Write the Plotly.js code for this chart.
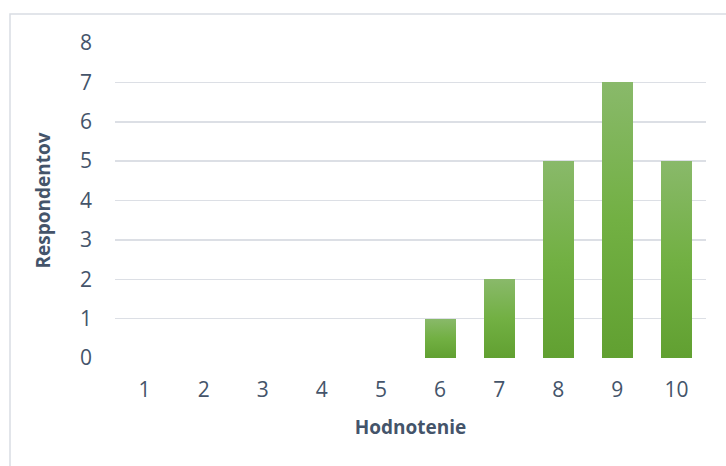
<!DOCTYPE html>
<html>
<head>
<meta charset="utf-8">
<script src="https://cdn.plot.ly/plotly-3.0.1.min.js"></script>
<style>html,body{margin:0;padding:0;background:#fff;}#chart{width:726px;height:466px;}</style>
</head>
<body>
<div id="chart"></div>
<script>
const categories = ['1','2','3','4','5','6','7','8','9','10'];
const respondents = [0, 0, 0, 0, 0, 1, 2, 5, 7, 5];
const yTicks = [0, 1, 2, 3, 4, 5, 6, 7, 8];
const xTitle = 'Hodnotenie';
const yTitle = 'Respondentov';

const textColor = '#44546a';
const fontFam = '"Open Sans", "Noto Sans", sans-serif';

const trace = {
  type: 'bar',
  x: categories,
  y: respondents,
  width: 0.526,
  marker: {color: '#72ae46', line: {width: 0}},
  hoverinfo: 'none'
};

const layout = {
  width: 726, height: 466,
  margin: {l: 115, r: 20, t: 43, b: 108},
  paper_bgcolor: '#ffffff', plot_bgcolor: '#ffffff',
  showlegend: false,
  font: {family: fontFam, color: textColor, size: 21},
  bargap: 0,
  xaxis: {
    type: 'category',
    showgrid: false, zeroline: false, showline: false,
    ticks: '', ticklabelstandoff: 17,
    tickfont: {size: 21, color: textColor},
    title: {text: xTitle, font: {size: 19, color: textColor, weight: 'bold'}, standoff: 18}
  },
  yaxis: {
    range: [0, 8],
    tickvals: yTicks,
    showgrid: true, gridcolor: '#dcdfe5', gridwidth: 1.5,
    zeroline: false, showline: false,
    ticks: '', ticklabelstandoff: 22,
    tickfont: {size: 21, color: textColor},
    title: {text: yTitle, font: {size: 19, color: textColor, weight: 'bold'}, standoff: 24}
  },
  shapes: [{
    type: 'rect', xref: 'paper', yref: 'paper',
    x0: -105/591, x1: 30/591 + 1, y0: -120/315, y1: 1 + 29/315,
    line: {color: '#d9dde3', width: 1.5}, fillcolor: 'rgba(0,0,0,0)', layer: 'below'
  }]
};

Plotly.newPlot('chart', [trace], layout, {staticPlot: true}).then(function(gd){
  const svg = gd.querySelector('svg.main-svg');
  const ns = 'http://www.w3.org/2000/svg';
  let defs = svg.querySelector('defs');
  if (!defs) { defs = document.createElementNS(ns, 'defs'); svg.insertBefore(defs, svg.firstChild); }
  const lg = document.createElementNS(ns, 'linearGradient');
  lg.setAttribute('id', 'greenGrad');
  lg.setAttribute('x1', '0'); lg.setAttribute('y1', '0');
  lg.setAttribute('x2', '0'); lg.setAttribute('y2', '1');
  [['0', '#89b96a'], ['0.5', '#72b043'], ['1', '#61a031']].forEach(function(s){
    const st = document.createElementNS(ns, 'stop');
    st.setAttribute('offset', s[0]); st.setAttribute('stop-color', s[1]);
    lg.appendChild(st);
  });
  defs.appendChild(lg);
  gd.querySelectorAll('.bars .point path').forEach(function(p){
    p.style.fill = 'url(#greenGrad)';
  });
});
</script>
</body>
</html>
